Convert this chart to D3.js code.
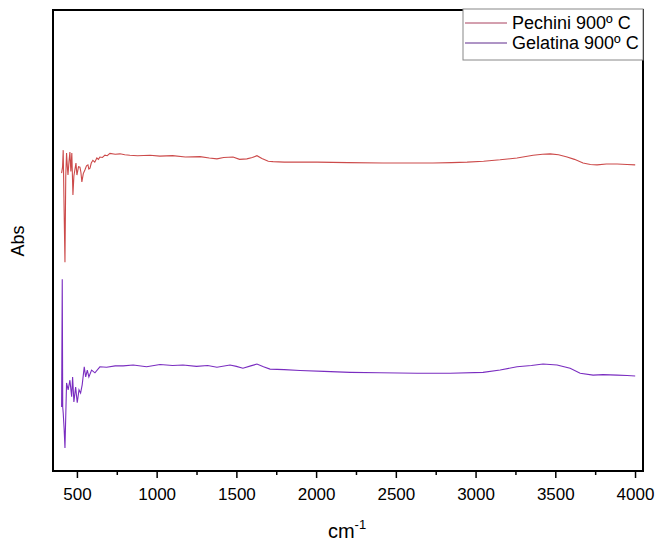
<!DOCTYPE html>
<html>
<head>
<meta charset="utf-8">
<script src="https://cdn.jsdelivr.net/npm/d3@7"></script>
<style>
  body { margin: 0; background: #fff; }
  svg { font-family: Arial, 'Liberation Sans', sans-serif; }
  .tick text { font-size: 17px; fill: #000; }
  .tick line { stroke: #000; stroke-width: 1.5; }
</style>
</head>
<body>
<svg id="chart"></svg>
<script>
// series: wavenumber (cm-1) and absorbance (arbitrary)
var pechiniWn  = [404, 410, 414, 420, 425, 430, 435, 440, 444, 450, 456, 462, 468, 475, 481, 487, 494, 500, 510, 519, 525, 531, 540, 550, 560, 569, 575, 582, 590, 600, 612, 625, 635, 644, 660, 676, 690, 707, 740, 770, 800, 832, 880, 958, 1020, 1100, 1180, 1272, 1330, 1378, 1420, 1479, 1520, 1566, 1600, 1629, 1660, 1700, 1730, 1800, 2006, 2200, 2420, 2600, 2733, 2850, 2947, 3050, 3154, 3260, 3361, 3420, 3468, 3520, 3574, 3620, 3674, 3720, 3762, 3820, 3888, 3950, 4001];
var pechiniAbs = [0.646, 0.660, 0.696, 0.560, 0.453, 0.640, 0.690, 0.660, 0.642, 0.670, 0.692, 0.650, 0.690, 0.599, 0.640, 0.653, 0.668, 0.642, 0.660, 0.659, 0.648, 0.627, 0.645, 0.653, 0.662, 0.664, 0.655, 0.657, 0.668, 0.674, 0.670, 0.679, 0.676, 0.681, 0.680, 0.685, 0.684, 0.689, 0.687, 0.688, 0.686, 0.685, 0.684, 0.685, 0.683, 0.684, 0.681, 0.682, 0.679, 0.677, 0.680, 0.681, 0.676, 0.677, 0.680, 0.684, 0.678, 0.672, 0.671, 0.670, 0.670, 0.669, 0.668, 0.668, 0.668, 0.669, 0.670, 0.672, 0.675, 0.679, 0.685, 0.687, 0.688, 0.686, 0.681, 0.676, 0.668, 0.665, 0.664, 0.666, 0.666, 0.665, 0.664];

var gelatinaWn  = [404, 408, 411, 414, 420, 425, 430, 435, 445, 456, 467, 473, 481, 492, 502, 513, 523, 533, 546, 555, 565, 575, 592, 613, 644, 686, 740, 790, 853, 937, 1021, 1100, 1165, 1250, 1320, 1378, 1460, 1500, 1541, 1590, 1629, 1670, 1711, 1800, 1899, 2050, 2213, 2400, 2633, 2840, 3047, 3154, 3260, 3350, 3423, 3511, 3593, 3656, 3737, 3800, 3888, 3950, 4001];
var gelatinaAbs = [0.139, 0.416, 0.139, 0.126, 0.090, 0.050, 0.120, 0.191, 0.176, 0.197, 0.161, 0.204, 0.150, 0.182, 0.148, 0.176, 0.169, 0.187, 0.226, 0.204, 0.219, 0.204, 0.219, 0.213, 0.226, 0.225, 0.228, 0.228, 0.230, 0.226, 0.231, 0.229, 0.230, 0.227, 0.229, 0.225, 0.230, 0.227, 0.223, 0.228, 0.232, 0.226, 0.221, 0.220, 0.218, 0.216, 0.214, 0.213, 0.212, 0.212, 0.214, 0.219, 0.226, 0.229, 0.232, 0.230, 0.223, 0.212, 0.208, 0.209, 0.208, 0.207, 0.206];

var seriesNames = ["Pechini 900º C", "Gelatina 900º C"];
var seriesColors = ["#cc4a4a", "#7a2dc0"];
var legendColors = ["#a8405e", "#5e2a8c"];
var xTicks = [500, 1000, 1500, 2000, 2500, 3000, 3500, 4000];
var xMinorTicks = [750, 1250, 1750, 2250, 2750, 3250, 3750];

var svgWidth = 659, svgHeight = 543;
var margin = { top: 10, right: 16, bottom: 72, left: 53 };
var chartWidth = svgWidth - margin.left - margin.right,
    chartHeight = svgHeight - margin.top - margin.bottom;

var svg = d3.select("#chart").attr("width", svgWidth).attr("height", svgHeight);
var chartgroup = svg.append("g").attr("transform", "translate(" + margin.left + "," + margin.top + ")");

var x_scale = d3.scaleLinear().domain([350, 4050]).range([0, chartWidth]);
var y_scale = d3.scaleLinear().domain([0, 1]).range([chartHeight, 0]);

// minor ticks first (no labels)
chartgroup.append("g")
   .attr("class", "x-minor")
   .attr("transform", "translate(0," + chartHeight + ")")
   .call(d3.axisBottom(x_scale).tickValues(xMinorTicks).tickSize(4).tickFormat(""))
   .call(g => g.select(".domain").remove());

chartgroup.append("g")
   .attr("class", "x-axis")
   .attr("transform", "translate(0," + chartHeight + ")")
   .call(d3.axisBottom(x_scale).tickValues(xTicks).tickSizeInner(7).tickSizeOuter(0).tickPadding(10).tickFormat(d3.format("d")))
   .call(g => g.select(".domain").remove());

// spectra
var line = d3.line()
   .x(function(d){ return x_scale(d[0]); })
   .y(function(d){ return y_scale(d[1]); });

var series = [
   d3.zip(pechiniWn, pechiniAbs),
   d3.zip(gelatinaWn, gelatinaAbs)
];

chartgroup.selectAll("path.spectrum")
   .data(series)
   .enter()
   .append("path")
   .attr("class", "spectrum")
   .attr("d", line)
   .attr("fill", "none")
   .attr("stroke", function(d, i){ return seriesColors[i]; })
   .attr("stroke-width", 1.1);

// frame
chartgroup.append("rect")
   .attr("width", chartWidth).attr("height", chartHeight)
   .attr("fill", "none").attr("stroke", "#000").attr("stroke-width", 2);

// legend
var legend = svg.append("g").attr("transform", "translate(463,9)");
legend.append("rect")
   .attr("width", 180).attr("height", 51)
   .attr("fill", "#fff").attr("stroke", "#888").attr("stroke-width", 1);
var rows = legend.selectAll("g.row").data(seriesNames).enter().append("g")
   .attr("class", "row")
   .attr("transform", function(d, i){ return "translate(0," + (14 + i * 20) + ")"; });
rows.append("line")
   .attr("x1", 2).attr("x2", 44)
   .attr("stroke", function(d, i){ return legendColors[i]; })
   .attr("stroke-width", 1);
rows.append("text")
   .attr("x", 49).attr("y", 6)
   .attr("font-size", 18)
   .text(function(d){ return d; });

// axis titles
svg.append("text")
   .attr("transform", "translate(24,241) rotate(-90)")
   .attr("text-anchor", "middle")
   .attr("font-size", 18)
   .text("Abs");

var xTitle = svg.append("text")
   .attr("x", 347).attr("y", 538)
   .attr("text-anchor", "middle")
   .attr("font-size", 20);
xTitle.append("tspan").text("cm");
xTitle.append("tspan").attr("dy", -9).attr("font-size", 13).text("-1");
</script>
</body>
</html>
